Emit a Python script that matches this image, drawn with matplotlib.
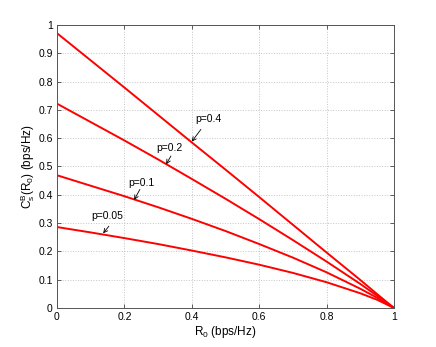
import numpy as np
import matplotlib
matplotlib.use("Agg")
import matplotlib.pyplot as plt

plt.rcParams['font.family'] = ['Liberation Sans', 'DejaVu Sans']
plt.rcParams['mathtext.fontset'] = 'custom'
plt.rcParams['mathtext.rm'] = 'Liberation Sans'
plt.rcParams['mathtext.it'] = 'Liberation Sans'

# Data
r0 = [0, 0.1, 0.2, 0.3, 0.4, 0.5, 0.6, 0.7, 0.8, 0.9, 0.95, 1.0]
cs_p005 = [0.286, 0.267, 0.247, 0.226, 0.203, 0.179, 0.153, 0.124, 0.091, 0.052, 0.029, 0.0]
cs_p01 = [0.469, 0.432, 0.395, 0.356, 0.315, 0.272, 0.226, 0.178, 0.126, 0.068, 0.036, 0.0]
cs_p02 = [0.722, 0.657, 0.592, 0.525, 0.456, 0.386, 0.314, 0.240, 0.164, 0.085, 0.043, 0.0]
cs_p04 = [0.971, 0.875, 0.779, 0.682, 0.585, 0.489, 0.392, 0.294, 0.196, 0.099, 0.049, 0.0]
curves = [cs_p005, cs_p01, cs_p02, cs_p04]

labels = ["p=0.05", "p=0.1", "p=0.2", "p=0.4"]
label_xy = [(0.103, 0.325), (0.212, 0.441), (0.296, 0.564), (0.41, 0.667)]
arrow_tail = [(0.154, 0.289), (0.246, 0.419), (0.338, 0.537), (0.427, 0.631)]
arrow_tip = [(0.137, 0.264), (0.229, 0.382), (0.324, 0.508), (0.400, 0.588)]

fig = plt.figure(figsize=(4.36, 3.47), dpi=100)
ax = fig.add_axes([0.1307, 0.1124, 0.773, 0.8156])

for cs in curves:
    ax.plot(r0, cs, color='red', lw=1.4)

for lab, pos, tail, tip in zip(labels, label_xy, arrow_tail, arrow_tip):
    ax.text(pos[0], pos[1], lab, fontsize=7.5, va='center', ha='left')
    ax.annotate('', xy=tip, xytext=tail,
                arrowprops=dict(arrowstyle='->', lw=0.6, color='black',
                                shrinkA=0, shrinkB=0, mutation_scale=7))

ax.set_xlim(0, 1)
ax.set_ylim(0, 1)
ax.set_xticks(np.arange(0, 1.01, 0.2))
ax.set_yticks(np.arange(0, 1.01, 0.1))
ax.set_xticklabels(['0', '0.2', '0.4', '0.6', '0.8', '1'])
ax.set_yticklabels(['0', '0.1', '0.2', '0.3', '0.4', '0.5', '0.6', '0.7', '0.8', '0.9', '1'])
ax.tick_params(direction='in', top=True, right=True, labelsize=7.5,
               length=3, width=0.6, color='#444444', pad=3)
for s in ax.spines.values():
    s.set_color('#555555')
    s.set_linewidth(0.7)
ax.grid(True, linestyle=':', color='#c4c4c4', linewidth=0.7)

ax.set_xlabel(r'$\mathregular{R_0}$ (bps/Hz)', fontsize=8.5, labelpad=1)
ax.set_ylabel(r'$\mathregular{C_s^B(R_0)}$ (bps/Hz)', fontsize=8.5, labelpad=1)

fig.savefig('out.png', dpi=100)
